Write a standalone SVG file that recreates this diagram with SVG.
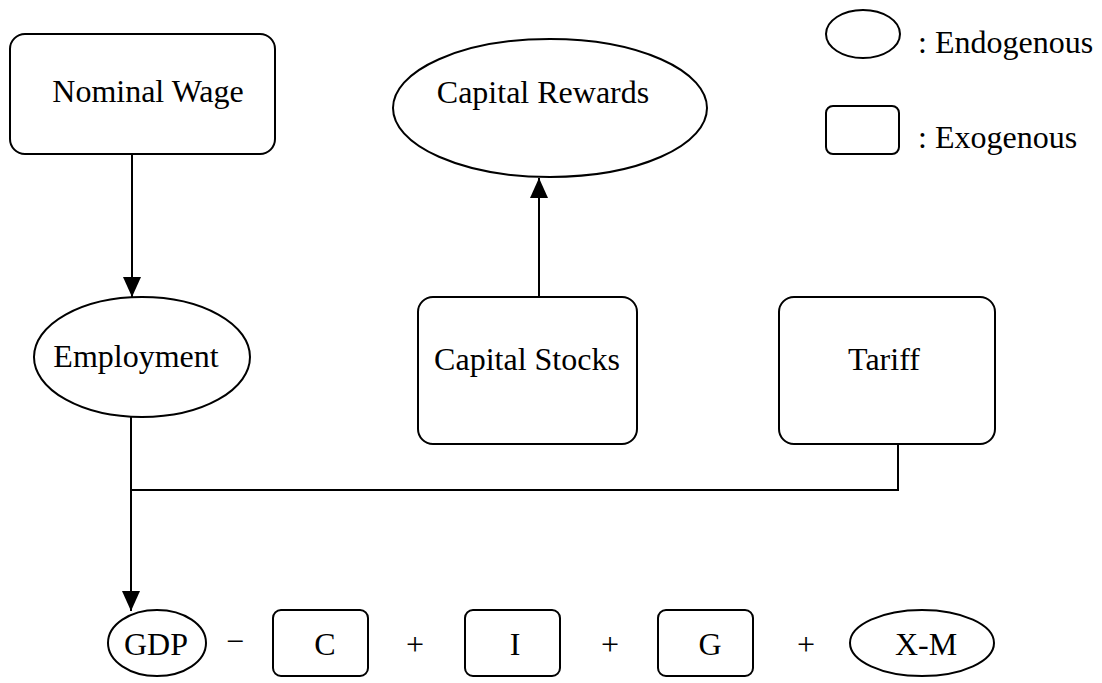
<svg xmlns="http://www.w3.org/2000/svg" width="1102" height="683" viewBox="0 0 1102 683">
<style>
.s{fill:#fff;stroke:#000;stroke-width:2}
.t{font-family:"Liberation Serif","Times New Roman",serif;font-size:32px;fill:#000}
.m{text-anchor:middle}
.c{fill:none;stroke:#000;stroke-width:2}
</style>
<defs>
<marker id="a" viewBox="0 0 20 18" refX="20" refY="9" markerWidth="20" markerHeight="18" orient="auto" markerUnits="userSpaceOnUse"><path d="M0,0 L20,9 L0,18 Z" fill="#000"/></marker>
</defs>
<rect width="1102" height="683" fill="#fff"/>
<g id="connectors">
<path class="c" d="M132,154 V297" marker-end="url(#a)"/>
<path class="c" d="M539,297 V178" marker-end="url(#a)"/>
<path class="c" d="M131,417 V611" marker-end="url(#a)"/>
<path class="c" d="M898,445 V490 H131"/>
</g>
<g id="legend">
<ellipse class="s" cx="863" cy="34" rx="37" ry="24"/>
<text class="t" x="918" y="53">: Endogenous</text>
<rect class="s" x="826" y="106" width="73" height="48" rx="7"/>
<text class="t" x="918" y="148">: Exogenous</text>
</g>
<g id="nominal-wage">
<rect class="s" x="10" y="34" width="265" height="120" rx="15"/>
<text class="t m" x="148" y="102">Nominal Wage</text>
</g>
<g id="capital-rewards">
<ellipse class="s" cx="550" cy="108" rx="157" ry="69"/>
<text class="t m" x="543" y="103">Capital Rewards</text>
</g>
<g id="employment">
<ellipse class="s" cx="142" cy="357" rx="108" ry="60"/>
<text class="t m" x="136" y="367">Employment</text>
</g>
<g id="capital-stocks">
<rect class="s" x="418" y="297" width="219" height="147" rx="15"/>
<text class="t m" x="527" y="370">Capital Stocks</text>
</g>
<g id="tariff">
<rect class="s" x="779" y="297" width="216" height="147" rx="15"/>
<text class="t m" x="884" y="370">Tariff</text>
</g>
<g id="gdp">
<ellipse class="s" cx="157" cy="643" rx="49" ry="33"/>
<text class="t m" x="156" y="655">GDP</text>
</g>
<text class="t m" x="235" y="652">−</text>
<g id="c">
<rect class="s" x="273" y="610" width="95" height="66" rx="8"/>
<text class="t m" x="325" y="655">C</text>
</g>
<text class="t m" x="415" y="655">+</text>
<g id="i">
<rect class="s" x="465" y="610" width="95" height="66" rx="8"/>
<text class="t m" x="515" y="655">I</text>
</g>
<text class="t m" x="610" y="655">+</text>
<g id="g">
<rect class="s" x="658" y="610" width="95" height="66" rx="8"/>
<text class="t m" x="710" y="655">G</text>
</g>
<text class="t m" x="806" y="655">+</text>
<g id="xm">
<ellipse class="s" cx="922" cy="643" rx="72" ry="33"/>
<text class="t m" x="926" y="655">X-M</text>
</g>
</svg>
